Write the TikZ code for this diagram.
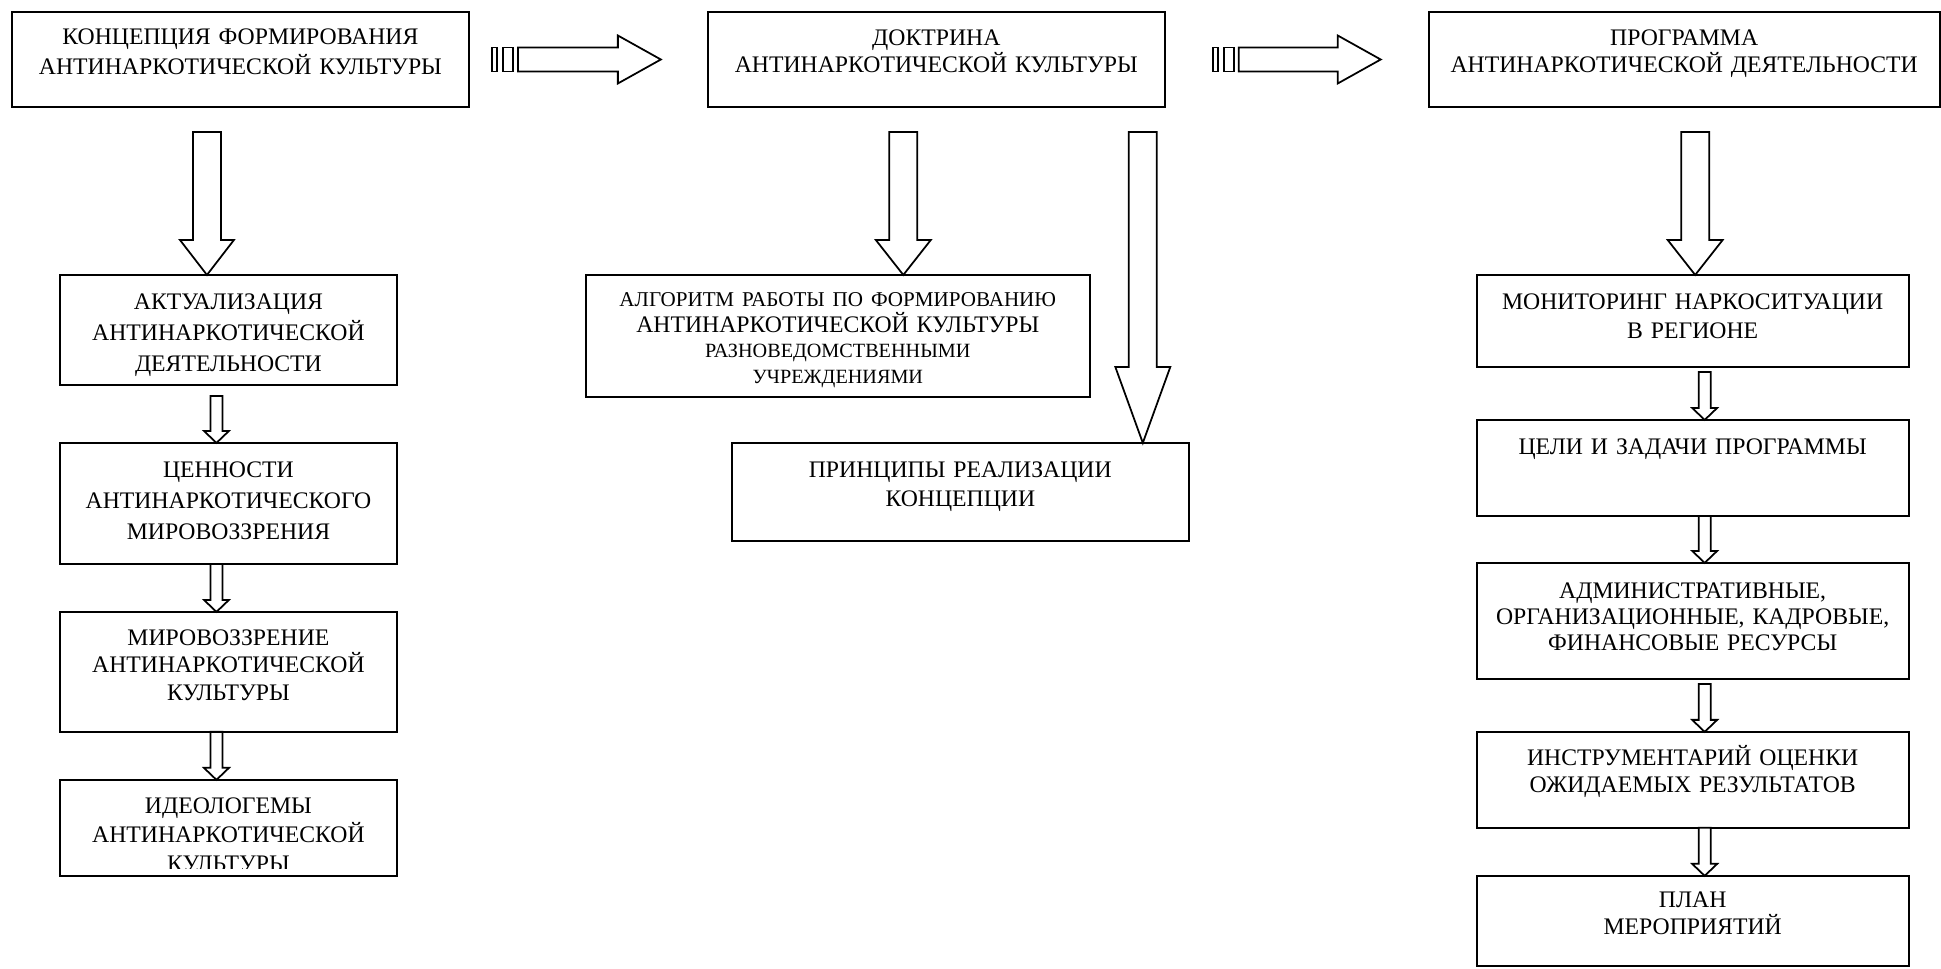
\documentclass[tikz,border=0pt]{standalone}
\usepackage{fontspec}
\setmainfont{Liberation Serif}
\usetikzlibrary{calc,positioning}

\newcommand{\hollowarrow}[5]{%
  \coordinate (ha-s) at (#1);
  \coordinate (ha-t) at (#2);
  \coordinate (ha-b) at ($(ha-t)!#5!(ha-s)$);
  \draw[arrowline] ($(ha-s)!#3!90:(ha-t)$) -- ($(ha-b)!#3!90:(ha-t)$) -- ($(ha-b)!#4!90:(ha-t)$) -- (ha-t)
    -- ($(ha-b)!#4!-90:(ha-t)$) -- ($(ha-b)!#3!-90:(ha-t)$) -- ($(ha-s)!#3!-90:(ha-t)$) -- cycle;}

\begin{document}
\begin{tikzpicture}[x=0.02cm, y=-0.02cm,
        box/.style={draw, rectangle, line width=1.1pt, inner sep=0pt, outer sep=0pt, align=center, fill=white,
        font=\fontsize{13.5}{15.4}\selectfont},
        tall/.style={font=\fontsize{13.5}{17.6}\selectfont},
        loose/.style={font=\fontsize{13.5}{16}\selectfont},
        arrowline/.style={draw, fill=white, line width=1pt, line join=miter}]

        \useasboundingbox (0,0) rectangle (1941,968);

        \node[box, tall, anchor=north west, text width=9.14cm, text height=0.64cm, text depth=1.26cm] (concept) at (12,12)
            {КОНЦЕПЦИЯ ФОРМИРОВАНИЯ\\АНТИНАРКОТИЧЕСКОЙ КУЛЬТУРЫ};
        \node[box, right=4.78cm of concept, text width=9.14cm, text height=0.66cm, text depth=1.24cm] (doctrine)
            {ДОКТРИНА\\АНТИНАРКОТИЧЕСКОЙ КУЛЬТУРЫ};
        \node[box, right=5.28cm of doctrine, text width=10.22cm, text height=0.66cm, text depth=1.24cm] (program)
            {ПРОГРАММА\\АНТИНАРКОТИЧЕСКОЙ ДЕЯТЕЛЬНОСТИ};

        \node[box, tall, below=3.36cm of concept, xshift=-0.24cm, text width=6.74cm, text height=0.7cm, text depth=1.5cm] (actual)
            {АКТУАЛИЗАЦИЯ\\АНТИНАРКОТИЧЕСКОЙ\\ДЕЯТЕЛЬНОСТИ};
        \node[box, tall, below=1.16cm of actual, text width=6.74cm, text height=0.7cm, text depth=1.72cm] (values)
            {ЦЕННОСТИ\\АНТИНАРКОТИЧЕСКОГО\\МИРОВОЗЗРЕНИЯ};
        \node[box, below=0.96cm of values, text width=6.74cm, text height=0.68cm, text depth=1.72cm] (worldview)
            {МИРОВОЗЗРЕНИЕ\\АНТИНАРКОТИЧЕСКОЙ\\КУЛЬТУРЫ};
        \node[box, below=0.96cm of worldview, text width=6.74cm, text height=0.68cm, text depth=1.24cm,
            font=\fontsize{13.5}{16.4}\selectfont] (ideologemes)
            {ИДЕОЛОГЕМЫ\\АНТИНАРКОТИЧЕСКОЙ\\КУЛЬТУРЫ};

        \node[box, below=3.36cm of doctrine, xshift=-1.97cm, text width=10.08cm, text height=0.63cm, text depth=1.81cm,
            font=\fontsize{13.5}{14.6}\selectfont] (algorithm)
            {{\fontsize{12}{14.6}\selectfont АЛГОРИТМ РАБОТЫ ПО ФОРМИРОВАНИЮ}\\АНТИНАРКОТИЧЕСКОЙ КУЛЬТУРЫ\\
            {\fontsize{11.5}{14.6}\selectfont РАЗНОВЕДОМСТВЕННЫМИ\\УЧРЕЖДЕНИЯМИ}};
        \node[box, loose, below=0.92cm of algorithm, xshift=2.45cm, text width=9.14cm, text height=0.7cm, text depth=1.26cm] (principles)
            {ПРИНЦИПЫ РЕАЛИЗАЦИИ\\КОНЦЕПЦИИ};

        \node[box, loose, below=3.36cm of program, xshift=0.17cm, text width=8.64cm, text height=0.7cm, text depth=1.14cm] (monitoring)
            {МОНИТОРИНГ НАРКОСИТУАЦИИ\\В РЕГИОНЕ};
        \node[box, below=1.06cm of monitoring, text width=8.64cm, text height=0.7cm, text depth=1.22cm] (goals)
            {ЦЕЛИ И ЗАДАЧИ ПРОГРАММЫ};
        \node[box, below=0.94cm of goals, text width=8.64cm, text height=0.72cm, text depth=1.6cm,
            font=\fontsize{13.5}{14.8}\selectfont] (resources)
            {АДМИНИСТРАТИВНЫЕ,\\ОРГАНИЗАЦИОННЫЕ, КАДРОВЫЕ,\\ФИНАНСОВЫЕ РЕСУРСЫ};
        \node[box, below=1.06cm of resources, text width=8.64cm, text height=0.68cm, text depth=1.24cm] (tools)
            {ИНСТРУМЕНТАРИЙ ОЦЕНКИ\\ОЖИДАЕМЫХ РЕЗУЛЬТАТОВ};
        \node[box, below=0.96cm of tools, text width=8.64cm, text height=0.64cm, text depth=1.16cm] (plan)
            {ПЛАН\\МЕРОПРИЯТИЙ};

        \fill[white] ([shift={(1.5,-1.5)}]ideologemes.south west) rectangle ([shift={(-1.5,-7)}]ideologemes.south east);

        \coordinate (h1) at ([shift={(49,0)}]concept.east);
        \coordinate (h1t) at ([shift={(-47,0)}]doctrine.west);
        \coordinate (h2) at ([shift={(74,0)}]doctrine.east);
        \coordinate (h2t) at ([shift={(-48,0)}]program.west);
        \foreach \xa/\xb in {-26/-21,-15/-5} {
            \draw[arrowline] ([shift={(\xa,-12)}]h1) rectangle ([shift={(\xb,12)}]h1);
            \draw[arrowline] ([shift={(\xa,-12)}]h2) rectangle ([shift={(\xb,12)}]h2);
        }
        \hollowarrow{h1}{h1t}{0.24cm}{0.48cm}{0.86cm};
        \hollowarrow{h2}{h2t}{0.24cm}{0.48cm}{0.86cm};

        \coordinate (c1) at ([shift={(-33.5,25)}]concept.south);
        \coordinate (d1) at ([shift={(-33,25)}]doctrine.south);
        \coordinate (d2) at ([shift={(206.5,25)}]doctrine.south);
        \coordinate (p1) at ([shift={(11,25)}]program.south);
        \hollowarrow{c1}{c1 |- actual.north}{0.28cm}{0.54cm}{0.7cm};
        \hollowarrow{d1}{d1 |- algorithm.north}{0.28cm}{0.55cm}{0.7cm};
        \hollowarrow{d2}{d2 |- principles.north}{0.28cm}{0.55cm}{1.52cm};
        \hollowarrow{p1}{p1 |- monitoring.north}{0.28cm}{0.55cm}{0.7cm};

        \coordinate (a1) at ([shift={(-12,11)}]actual.south);
        \coordinate (a2) at ([shift={(-12,0)}]values.south);
        \coordinate (a3) at ([shift={(-12,0)}]worldview.south);
        \hollowarrow{a1}{a1 |- values.north}{0.12cm}{0.25cm}{0.24cm};
        \hollowarrow{a2}{a2 |- worldview.north}{0.12cm}{0.25cm}{0.24cm};
        \hollowarrow{a3}{a3 |- ideologemes.north}{0.12cm}{0.25cm}{0.24cm};

        \coordinate (r1) at ([shift={(12,5)}]monitoring.south);
        \coordinate (r2) at ([shift={(12,0)}]goals.south);
        \coordinate (r3) at ([shift={(12,5)}]resources.south);
        \coordinate (r4) at ([shift={(12,0)}]tools.south);
        \hollowarrow{r1}{r1 |- goals.north}{0.12cm}{0.25cm}{0.24cm};
        \hollowarrow{r2}{r2 |- resources.north}{0.12cm}{0.25cm}{0.24cm};
        \hollowarrow{r3}{r3 |- tools.north}{0.12cm}{0.25cm}{0.24cm};
        \hollowarrow{r4}{r4 |- plan.north}{0.12cm}{0.25cm}{0.24cm};

    \end{tikzpicture}
\end{document}
